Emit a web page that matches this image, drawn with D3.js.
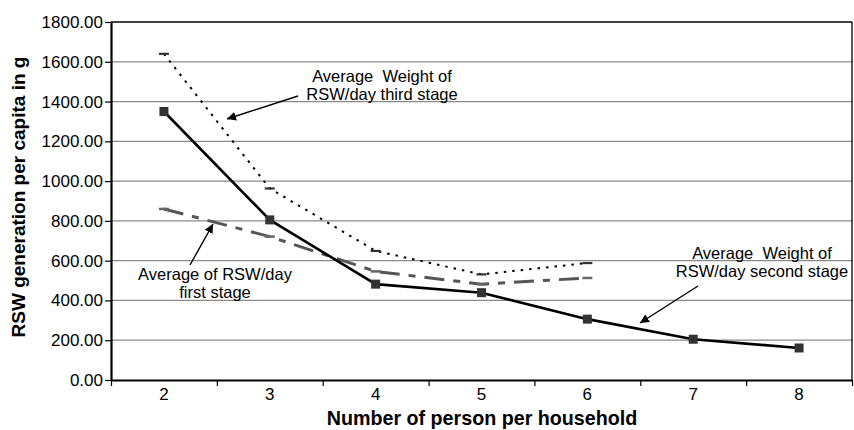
<!DOCTYPE html>
<html><head><meta charset="utf-8">
<script src="https://cdn.jsdelivr.net/npm/d3@7"></script>
<style>body{margin:0;background:#fff;}svg{display:block;font-family:"Liberation Sans",Arial,sans-serif;}</style>
</head><body><svg id="c" width="854" height="430"></svg>
<script>
const categories = [2, 3, 4, 5, 6, 7, 8];
const firstStageCats = [2, 3, 4, 5, 6];
const firstStage = [860, 721, 546, 482, 513];
const secondStage = [1350, 805, 482, 439, 306, 205, 161];
const thirdStageCats = [2, 3, 4, 5, 6];
const thirdStage = [1640, 963, 649, 531, 588];
const yTicks = [0, 200, 400, 600, 800, 1000, 1200, 1400, 1600, 1800];
const yTitle = "RSW generation per capita in g";
const xTitle = "Number of person per household";
const noteThird = ["Average  Weight of", "RSW/day third stage"];
const noteFirst = ["Average of RSW/day", "first stage"];
const noteSecond = ["Average  Weight of", "RSW/day second stage"];

const L = 111, R = 852, T = 22, B = 380;
const svg = d3.select("#c");
const x = d3.scaleBand().domain(categories).range([L, R]).padding(0);
const cx = c => x(c) + x.bandwidth() / 2;
const y = d3.scaleLinear().domain([0, 1800]).range([B, T]);

// gridlines
svg.append("g").selectAll("line").data(yTicks.slice(1, -1)).join("line")
  .attr("x1", L).attr("x2", R).attr("y1", d => y(d)).attr("y2", d => y(d))
  .attr("stroke", "#8a8a8a").attr("stroke-width", 1.3);
// plot border top/right
svg.append("line").attr("x1", L).attr("x2", R).attr("y1", y(1800)).attr("y2", y(1800)).attr("stroke", "#000").attr("stroke-width", 1.3);
svg.append("line").attr("x1", R).attr("x2", R).attr("y1", T).attr("y2", B).attr("stroke", "#000").attr("stroke-width", 1.3);

// y axis
const ya = svg.append("g").attr("transform", `translate(${L},0)`)
  .call(d3.axisLeft(y).tickValues(yTicks).tickFormat(d3.format(".2f")).tickSize(6).tickSizeOuter(0).tickPadding(2));
ya.select(".domain").attr("stroke-width", 2.2);
ya.selectAll("text").attr("font-size", 17).attr("fill", "#000").attr("font-family", "Liberation Sans, Arial, sans-serif");
ya.selectAll(".tick line").attr("stroke-width", 1.2);

// x axis: labels at centers, ticks at boundaries
const xa = svg.append("g").attr("transform", `translate(0,${B})`)
  .call(d3.axisBottom(x).tickSize(0).tickPadding(8));
xa.select(".domain").remove();
xa.selectAll("text").attr("font-size", 17).attr("fill", "#000").attr("font-family", "Liberation Sans, Arial, sans-serif");
const xb = d3.scaleLinear().domain([1.5, 8.5]).range([L, R]);
const xt = svg.append("g").attr("transform", `translate(0,${B})`)
  .call(d3.axisBottom(xb).tickValues(d3.range(1.5, 8.6, 1)).tickSize(6).tickSizeOuter(0).tickFormat(""));
xt.select(".domain").attr("stroke-width", 2.2);
xt.selectAll(".tick line").attr("stroke-width", 1.2);

// titles
svg.append("text").attr("x", 482).attr("y", 425).attr("text-anchor", "middle")
  .attr("font-weight", "bold").attr("font-size", 19.7).text(xTitle);
svg.append("text").attr("transform", `translate(25,197) rotate(-90)`).attr("text-anchor", "middle")
  .attr("font-weight", "bold").attr("font-size", 19).text(yTitle);

const line = d3.line();
// first stage: dash-dot gray
svg.append("path").datum(firstStageCats.map((c, i) => [cx(c), y(firstStage[i])]))
  .attr("d", line).attr("fill", "none").attr("stroke", "#555")
  .attr("stroke-width", 3).attr("stroke-dasharray", "20,9,7,9");
// third stage: dotted black
svg.append("path").datum(thirdStageCats.map((c, i) => [cx(c), y(thirdStage[i])]))
  .attr("d", line).attr("fill", "none").attr("stroke", "#000")
  .attr("stroke-width", 2).attr("stroke-dasharray", "2.5,6");
// second stage: solid
svg.append("path").datum(categories.map((c, i) => [cx(c), y(secondStage[i])]))
  .attr("d", line).attr("fill", "none").attr("stroke", "#000").attr("stroke-width", 2.6);
svg.append("g").selectAll("rect").data(categories).join("rect")
  .attr("x", (c) => cx(c) - 4.5).attr("y", (c, i) => y(secondStage[i]) - 4.5)
  .attr("width", 9).attr("height", 9).attr("fill", "#333");
// dash markers
svg.append("g").selectAll("line").data(thirdStageCats).join("line")
  .attr("x1", c => cx(c) - 5).attr("x2", c => cx(c) + 5)
  .attr("y1", (c, i) => y(thirdStage[i])).attr("y2", (c, i) => y(thirdStage[i]))
  .attr("stroke", "#333").attr("stroke-width", 2.2);
svg.append("g").selectAll("line").data(firstStageCats).join("line")
  .attr("x1", c => cx(c) - 5).attr("x2", c => cx(c) + 5)
  .attr("y1", (c, i) => y(firstStage[i])).attr("y2", (c, i) => y(firstStage[i]))
  .attr("stroke", "#666").attr("stroke-width", 2.5);

// annotations
svg.append("defs").append("marker").attr("id", "ah").attr("viewBox", "0 0 10 10")
  .attr("refX", 10).attr("refY", 5).attr("markerWidth", 9).attr("markerHeight", 9)
  .attr("markerUnits", "userSpaceOnUse").attr("orient", "auto")
  .append("path").attr("d", "M0,0L10,5L0,10z").attr("fill", "#000");
function note(lines, tx, ty, a1, a2) {
  const t = svg.append("text").attr("text-anchor", "middle").attr("font-size", 16.5).attr("fill", "#000");
  lines.forEach((s, i) => t.append("tspan").attr("x", tx).attr("y", ty + i * 17.5).attr("xml:space", "preserve").style("white-space", "pre").text(s));
  svg.append("line").attr("x1", a1[0]).attr("y1", a1[1]).attr("x2", a2[0]).attr("y2", a2[1])
    .attr("stroke", "#000").attr("stroke-width", 1.4).attr("marker-end", "url(#ah)");
}
note(noteThird, 382, 82, [298, 96], [227, 119]);
note(noteFirst, 215, 280, [190, 265], [213, 224]);
note(noteSecond, 762, 259, [698, 286], [640, 323]);
</script></body></html>
